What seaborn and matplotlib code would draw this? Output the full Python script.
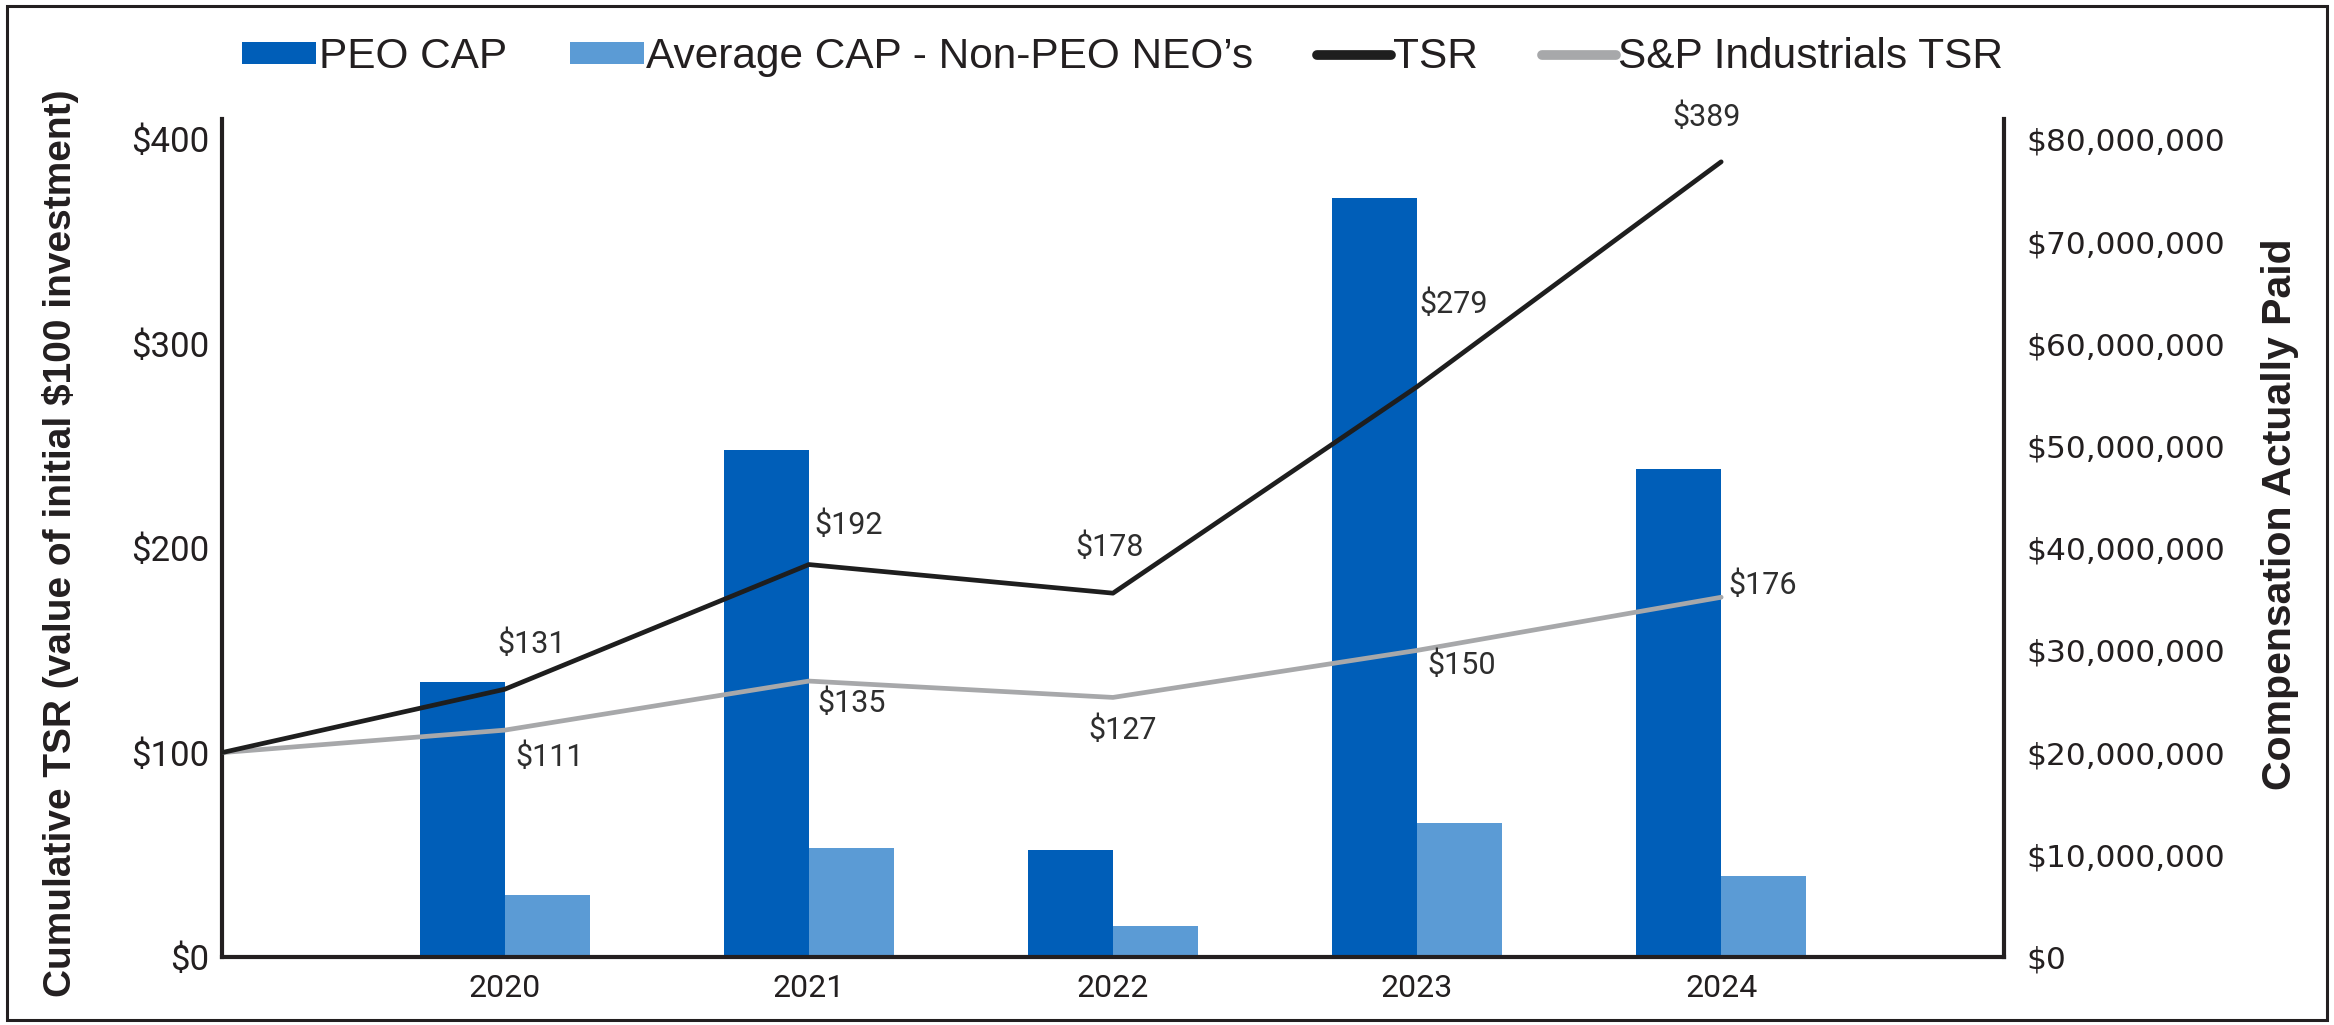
import numpy as np
import pandas as pd
import matplotlib
matplotlib.use("Agg")
import matplotlib.pyplot as plt
import seaborn as sns
from matplotlib.patches import Patch, Rectangle
from matplotlib.lines import Line2D
from matplotlib.ticker import FixedLocator, FuncFormatter

# ---------------- data ----------------
years = ["2020", "2021", "2022", "2023", "2024"]
peo_cap = [26.9e6, 49.6e6, 10.5e6, 74.3e6, 47.7e6]
neo_cap = [6.1e6, 10.7e6, 3.0e6, 13.1e6, 7.9e6]
tsr_start = 100
tsr = [131, 192, 178, 279, 389]
sp_tsr = [111, 135, 127, 150, 176]
series_names = ["PEO CAP", "Average CAP - Non-PEO NEO\u2019s", "TSR", "S&P Industrials TSR"]
left_ticks = [0, 100, 200, 300, 400]
right_ticks = [0, 10e6, 20e6, 30e6, 40e6, 50e6, 60e6, 70e6, 80e6]
left_title = "Cumulative TSR (value of initial $100 investment)"
right_title = "Compensation Actually Paid"

# ---------------- style ----------------
sns.set_style("white")
plt.rcParams["font.family"] = ["Roboto", "DejaVu Sans"]
C_PEO = "#005EB8"
C_NEO = "#5B9BD5"
C_TSR = "#1E1E1E"
C_SP = "#A7A8AA"
C_TXT = "#231F20"

fig = plt.figure(figsize=(23.34, 10.25), dpi=100)
ax = fig.add_axes([0.0951, 0.0663, 0.7635, 0.8177])

XMIN, XMAX = -0.93, 4.93

df = pd.DataFrame({
    "year": years * 2,
    "series": [series_names[0]] * len(years) + [series_names[1]] * len(years),
    "value": peo_cap + neo_cap,
})
sns.barplot(data=df, x="year", y="value", hue="series", order=years,
            hue_order=series_names[:2], palette=[C_PEO, C_NEO], width=0.56,
            saturation=1, linewidth=0, edgecolor="none", legend=False, ax=ax)
ax.set_xlim(XMIN, XMAX)
ax.set_ylim(0, 82e6)
ax.set_xlabel("")
ax.set_ylabel("")

ax2 = ax.twinx()
line_x = [XMIN] + list(range(len(years)))
sns.lineplot(x=line_x, y=[tsr_start] + sp_tsr, sort=False, color=C_SP, lw=3.4, ax=ax2)
sns.lineplot(x=line_x, y=[tsr_start] + tsr, sort=False, color=C_TSR, lw=3.4, ax=ax2)
ax2.set_ylim(0, 410)
ax2.set_xlim(XMIN, XMAX)

# swap sides: TSR on left, compensation on right
ax.yaxis.tick_right()
ax.yaxis.set_label_position("right")
ax2.yaxis.tick_left()
ax2.yaxis.set_label_position("left")

ax.yaxis.set_major_locator(FixedLocator(right_ticks))
ax.yaxis.set_major_formatter(FuncFormatter(lambda v, p: f"${v:,.0f}"))
ax2.yaxis.set_major_locator(FixedLocator(left_ticks))
ax2.yaxis.set_major_formatter(FuncFormatter(lambda v, p: f"${v:,.0f}"))

for a in (ax, ax2):
    a.grid(False)
    a.spines["top"].set_visible(False)
for s in ("left", "right", "bottom"):
    ax.spines[s].set_color(C_TXT)
    ax.spines[s].set_linewidth(3)
for s in ("left", "right", "bottom"):
    ax2.spines[s].set_visible(False)

ax.tick_params(axis="y", length=0, pad=16, labelsize=22.5, labelcolor=C_TXT)
for t in ax.get_yticklabels():
    t.set_fontfamily(["DejaVu Sans"])
ax.tick_params(axis="x", length=0, pad=12, labelsize=23, labelcolor=C_TXT)
ax2.tick_params(axis="y", length=0, pad=9, labelsize=25, labelcolor=C_TXT)

# data labels
tsr_off = [(27, 45), (40, 39), (-3, 46), (37, 82), (-15, 45)]
sp_off = [(45, -27), (43, -22), (10, -33), (45, -15), (42, 12)]
for i, (v, o) in enumerate(zip(tsr, tsr_off)):
    ax2.annotate(f"${v}", (i, v), xytext=o, textcoords="offset pixels",
                 ha="center", va="center", fontsize=22, color="#2E2E2E",
                 annotation_clip=False)
for i, (v, o) in enumerate(zip(sp_tsr, sp_off)):
    ax2.annotate(f"${v}", (i, v), xytext=o, textcoords="offset pixels",
                 ha="center", va="center", fontsize=22, color="#2E2E2E",
                 annotation_clip=False)

# axis titles
fig.text(0.026, 0.47, left_title, rotation=90, ha="center", va="center",
         fontsize=28, fontweight="bold", color=C_TXT, family=["Liberation Sans", "DejaVu Sans"])
fig.text(0.977, 0.498, right_title, rotation=90, ha="center", va="center",
         fontsize=29.5, fontweight="bold", color=C_TXT,
         family=["Liberation Sans Narrow", "Liberation Sans", "DejaVu Sans"])

# legend
handles = [
    Patch(facecolor=C_PEO, edgecolor="none"),
    Patch(facecolor=C_NEO, edgecolor="none"),
    Line2D([0], [0], color=C_TSR, lw=7, solid_capstyle="round"),
    Line2D([0], [0], color=C_SP, lw=7, solid_capstyle="round"),
]
leg = fig.legend(handles, series_names, loc="center", bbox_to_anchor=(0.481, 0.944),
                 ncol=4, frameon=False, handlelength=1.75, handleheight=0.42,
                 handletextpad=0.05, columnspacing=1.5,
                 prop={"family": ["Liberation Sans Narrow", "Liberation Sans", "DejaVu Sans"], "size": 30.5})
for t in leg.get_texts():
    t.set_color(C_TXT)

# outer border
fig.patches.append(Rectangle((0.003, 0.005), 0.994, 0.989, transform=fig.transFigure,
                             fill=False, lw=2.2, ec=C_TXT))

fig.savefig("out.png", dpi=100)
